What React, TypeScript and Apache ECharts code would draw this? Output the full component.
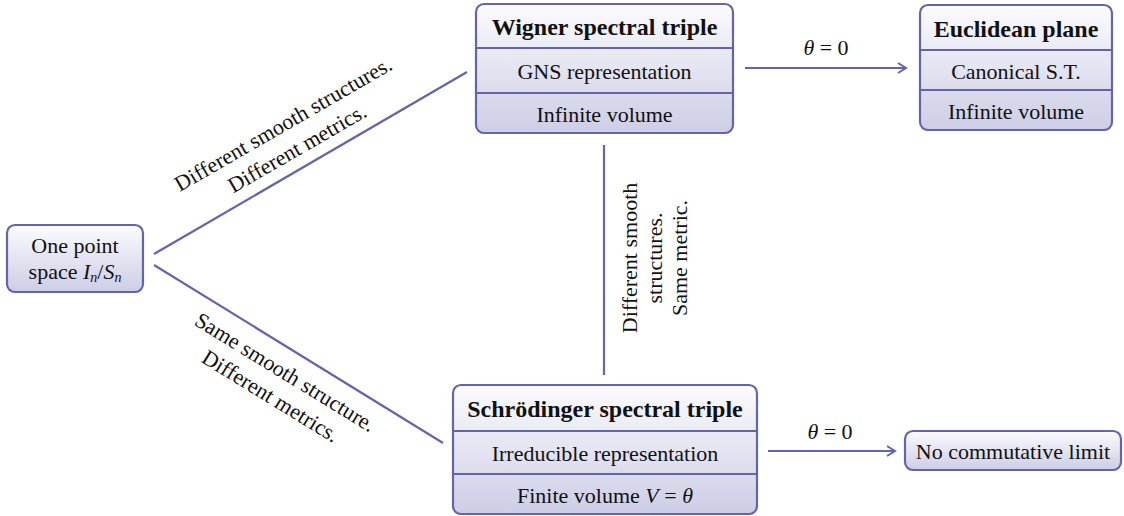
import React, { useEffect, useRef } from "react";
import * as echarts from "echarts";

// ---- content ----
const boxTitles = ["Wigner spectral triple", "Euclidean plane", "Schrödinger spectral triple"];
const boxRows = [
  ["GNS representation", "Infinite volume"],
  ["Canonical S.T.", "Infinite volume"],
  ["Irreducible representation", "Finite volume {i|V} = {i|θ}"],
];
const startLabel = "One point\nspace {i|I}{s|n}/{i|S}{s|n}";
const endLabel = "No commutative limit";
const limitLabel = "{i|θ} = 0";
const edgeLabels = [
  "Different smooth structures.\nDifferent metrics.",
  "Same smooth structure.\nDifferent metrics.",
  "Different smooth\nstructures.\nSame metric.",
];

// ---- layout (pixels) ----
const boxLayout = [
  { x: 476, y: 4, w: 257, rows: [44, 45, 40] },
  { x: 920, y: 5, w: 192, rows: [45, 40, 40] },
  { x: 453, y: 385, w: 304, rows: [46, 43, 40] },
];
const startBox = { x: 7, y: 225, w: 136, h: 67 };
const endBox = { x: 905, y: 431, w: 216, h: 39 };

const LINE = "#6464a8";
const FONT = '"Liberation Serif", "DejaVu Serif", serif';
const FS = 22;
const FSB = 24;

const grad = {
  type: "linear", x: 0, y: 0, x2: 0, y2: 1,
  colorStops: [
    { offset: 0, color: "#fbfbfe" },
    { offset: 1, color: "#cdcde6" },
  ],
};

const rich = {
  i: { fontStyle: "italic", fontFamily: FONT, fontSize: FS, lineHeight: 26 },
  s: { fontStyle: "italic", fontFamily: FONT, fontSize: 14, lineHeight: 14, verticalAlign: "bottom" },
};

function txt(x: number, y: number, text: string, opts: any = {}) {
  return {
    type: "text",
    x, y,
    rotation: opts.rotation || 0,
    z: 10,
    style: {
      text,
      fill: "#111",
      fontFamily: FONT,
      fontSize: opts.fontSize || FS,
      fontWeight: opts.bold ? "bold" : "normal",
      align: "center",
      verticalAlign: "middle",
      lineHeight: opts.lineHeight || 26,
      rich,
    },
  };
}

function box(x: number, y: number, w: number, h: number) {
  return {
    type: "rect",
    shape: { x, y, width: w, height: h, r: 8 },
    style: { fill: grad, stroke: LINE, lineWidth: 2.2 },
  };
}

function seg(x1: number, y1: number, x2: number, y2: number) {
  return {
    type: "line",
    shape: { x1, y1, x2, y2 },
    style: { stroke: LINE, lineWidth: 2.2 },
  };
}

function arrow(x1: number, x2: number, y: number) {
  return [
    seg(x1, y, x2, y),
    {
      type: "polyline",
      shape: { points: [[x2 - 8, y - 5], [x2, y], [x2 - 8, y + 5]] },
      style: { stroke: LINE, lineWidth: 2, fill: null },
    },
  ];
}

function buildElements() {
  const els: any[] = [];
  boxLayout.forEach((b, k) => {
    const h = b.rows.reduce((a, c) => a + c, 0);
    els.push(box(b.x, b.y, b.w, h));
    const cx = b.x + b.w / 2;
    let yy = b.y;
    const texts = [boxTitles[k], ...boxRows[k]];
    b.rows.forEach((rh, j) => {
      if (j > 0) els.push(seg(b.x, yy, b.x + b.w, yy));
      els.push(txt(cx, yy + rh / 2 + 1, texts[j], j === 0 ? { bold: true, fontSize: FSB } : {}));
      yy += rh;
    });
  });
  els.push(box(startBox.x, startBox.y, startBox.w, startBox.h));
  els.push(txt(startBox.x + startBox.w / 2, startBox.y + startBox.h / 2, startLabel, { lineHeight: 25 }));
  els.push(box(endBox.x, endBox.y, endBox.w, endBox.h));
  els.push(txt(endBox.x + endBox.w / 2, endBox.y + endBox.h / 2 + 1, endLabel));

  // connectors
  els.push(seg(154, 254, 467, 72));
  els.push(seg(154, 265, 443, 443));
  els.push(seg(604, 145, 604, 375));
  els.push(...arrow(745, 906, 68));
  els.push(...arrow(768, 895, 451));

  // labels
  els.push(txt(826, 47, limitLabel));
  els.push(txt(830, 431, limitLabel));
  els.push(txt(290, 136, edgeLabels[0], { rotation: (30 * Math.PI) / 180, lineHeight: 28 }));
  els.push(txt(278, 384, edgeLabels[1], { rotation: (-31.6 * Math.PI) / 180, lineHeight: 28 }));
  els.push(txt(654, 258, edgeLabels[2], { rotation: Math.PI / 2, lineHeight: 25 }));
  return els;
}

export default function App() {
  const ref = useRef<HTMLDivElement>(null);
  useEffect(() => {
    document.body.style.margin = "0";
    const chart = echarts.init(ref.current!, null, { renderer: "svg" });
    chart.setOption({
      animation: false,
      graphic: { elements: buildElements() },
    });
    return () => chart.dispose();
  }, []);
  return <div ref={ref} style={{ width: 1124, height: 516, background: "#fff" }} />;
}
